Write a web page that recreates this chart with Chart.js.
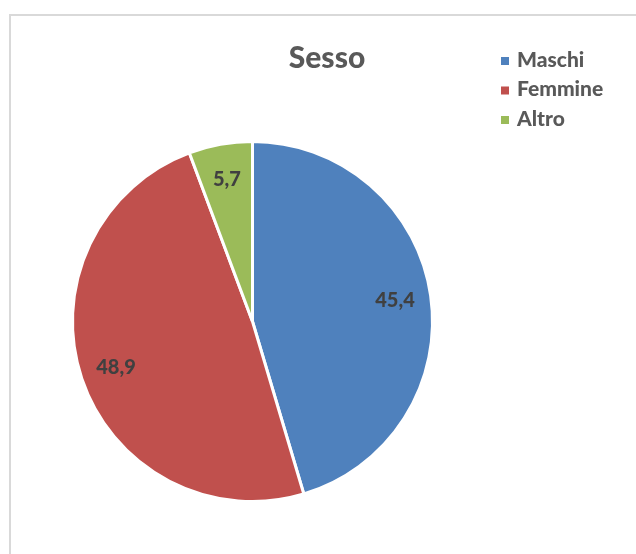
<!DOCTYPE html>
<html>
<head>
<meta charset="utf-8">
<script src="https://cdn.jsdelivr.net/npm/chart.js@4/dist/chart.umd.min.js"></script>
<style>
  body { margin: 0; background: #fff; }
  #wrap { width: 636px; height: 554px; }
</style>
</head>
<body>
<div id="wrap"><canvas id="chart" width="636" height="554"></canvas></div>
<script>
const categories = ['Maschi', 'Femmine', 'Altro'];
const values = [45.4, 48.9, 5.7];
const colors = ['#4F81BD', '#C0504D', '#9BBB59'];
const chartTitle = 'Sesso';

const FONT = 'Lato, "Open Sans", sans-serif';

// frame, title, legend and value labels
const decorations = {
    id: 'decorations',
    beforeDraw(chart) {
        const ctx = chart.ctx;
        ctx.save();
        ctx.strokeStyle = '#d9d9d9';
        ctx.lineWidth = 2;
        ctx.strokeRect(10, 15, 700, 700);
        ctx.restore();
    },
    afterDraw(chart) {
        const ctx = chart.ctx;
        ctx.save();

        // title
        ctx.fillStyle = '#595959';
        ctx.font = '900 30px ' + FONT;
        ctx.textAlign = 'center';
        ctx.textBaseline = 'middle';
        ctx.fillText(chartTitle, 327, 58);

        // legend
        ctx.font = '900 21px ' + FONT;
        ctx.textAlign = 'left';
        categories.forEach((name, i) => {
            const y = 61 + i * 29.5;
            ctx.fillStyle = colors[i];
            ctx.fillRect(501, y - 4, 8, 8);
            ctx.fillStyle = '#595959';
            ctx.fillText(name, 517, y - 1);
        });

        // data labels
        const meta = chart.getDatasetMeta(0);
        ctx.font = '900 20px ' + FONT;
        ctx.fillStyle = '#404040';
        ctx.textAlign = 'center';
        meta.data.forEach((arc, i) => {
            const mid = (arc.startAngle + arc.endAngle) / 2;
            const r = arc.outerRadius * 0.8;
            const x = arc.x + Math.cos(mid) * r;
            const y = arc.y + Math.sin(mid) * r;
            ctx.fillText(values[i].toFixed(1).replace('.', ','), x, y);
        });
        ctx.restore();
    }
};

new Chart(document.getElementById('chart'), {
    type: 'pie',
    data: {
        labels: categories,
        datasets: [{
            data: values,
            backgroundColor: colors,
            borderColor: '#ffffff',
            borderWidth: 3
        }]
    },
    options: {
        responsive: false,
        animation: false,
        layout: { padding: { left: 71, top: 140, right: 202, bottom: 51 } },
        plugins: {
            legend: { display: false },
            title: { display: false },
            tooltip: { enabled: false }
        }
    },
    plugins: [decorations]
});
</script>
</body>
</html>
